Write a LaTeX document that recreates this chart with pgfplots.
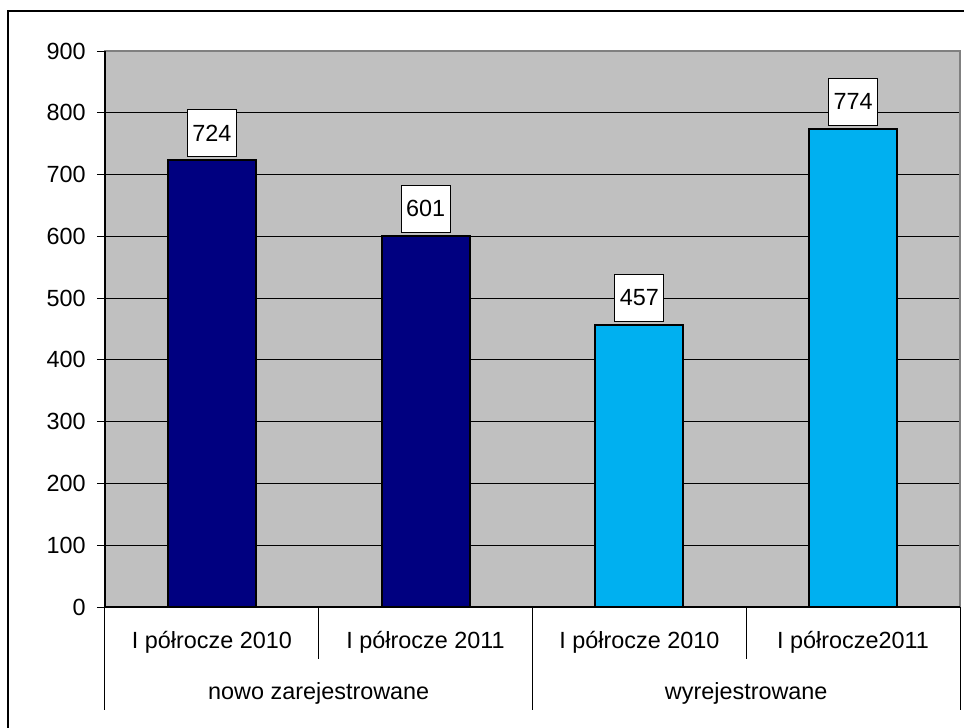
\documentclass[border=0pt]{standalone}
\usepackage{fontspec}
\setmainfont{Liberation Sans}
\usepackage{pgfplots}
\pgfplotsset{compat=1.18}
\definecolor{navy}{RGB}{0,0,128}
\definecolor{lblue}{RGB}{0,176,240}
\definecolor{plotgray}{RGB}{192,192,192}
\definecolor{bordergray}{RGB}{128,128,128}
\newcommand{\lblfont}{\fontsize{11.7}{14}\selectfont}
\begin{document}
\begin{tikzpicture}[x=0.5pt,y=0.5pt]
\begin{axis}[name=ax, at={(0,0)}, anchor=south west,
  scale only axis, width=427.5pt, height=278pt,
  xmin=-0.5, xmax=3.5, ymin=0, ymax=900,
  ytick={0,100,...,900}, xtick=\empty, ytick pos=left,
  ybar, bar width=44pt,
  axis background/.style={fill=plotgray},
  axis line style={draw=bordergray, line width=0.6pt},
  ymajorgrids, major grid style={black, line width=0.5pt},
  tick align=outside, major tick length=4pt, tick style={black, line width=0.5pt},
  /pgf/number format/assume math mode=true,
  yticklabel style={font=\lblfont, anchor=east, inner sep=0pt, xshift=-5.5pt},
  clip=false,
  nodes near coords,
  every node near coord/.append style={fill=white, draw=black, line width=0.4pt,
    minimum width=24.5pt, minimum height=23.5pt, inner sep=0pt, font=\lblfont, anchor=south, yshift=1.5pt},
]
\addplot[bar shift=0pt, fill=navy, draw=black, line width=1pt] coordinates {(0,724) (1,601)};
\addplot[bar shift=0pt, fill=lblue, draw=black, line width=1pt] coordinates {(2,457) (3,774)};
\draw[black, line width=0.6pt] (axis cs:-0.5,0) -- (axis cs:-0.5,900);
\draw[black, line width=0.6pt] (axis cs:-0.5,0) -- (axis cs:3.5,0);
\draw[black, line width=0.5pt] (axis cs:-0.5,0) -- (axis cs:-0.5,-166.7);
\draw[black, line width=0.5pt] (axis cs:0.5,0) -- (axis cs:0.5,-84.2);
\draw[black, line width=0.5pt] (axis cs:1.5,0) -- (axis cs:1.5,-166.7);
\draw[black, line width=0.5pt] (axis cs:2.5,0) -- (axis cs:2.5,-84.2);
\draw[black, line width=0.5pt] (axis cs:3.5,0) -- (axis cs:3.5,-166.7);
\node[font=\lblfont] at (axis cs:0,-56.7) {I półrocze 2010};
\node[font=\lblfont] at (axis cs:1,-56.7) {I półrocze 2011};
\node[font=\lblfont] at (axis cs:2,-56.7) {I półrocze 2010};
\node[font=\lblfont] at (axis cs:3,-56.7) {I półrocze2011};
\node[font=\lblfont] at (axis cs:0.5,-139.2) {nowo zarejestrowane};
\node[font=\lblfont] at (axis cs:2.5,-139.2) {wyrejestrowane};
\end{axis}
\draw[black, line width=0.75pt] (-97,-160) -- (-97,596) -- (900,596);
\pgfresetboundingbox
\path[use as bounding box] (-105,-121) rectangle (859,607);
\end{tikzpicture}
\end{document}
